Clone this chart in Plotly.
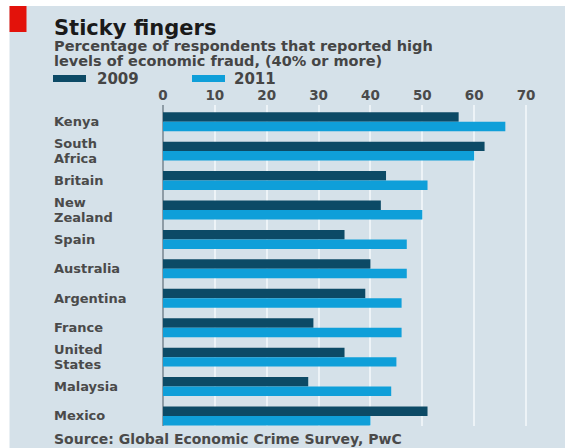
import plotly.graph_objects as go

countries = ["Kenya", "South\nAfrica", "Britain", "New\nZealand", "Spain", "Australia",
             "Argentina", "France", "United\nStates", "Malaysia", "Mexico"]
series_names = ["2009", "2011"]
v2009 = [57, 62, 43, 42, 35, 40, 39, 29, 35, 28, 51]
v2011 = [66, 60, 51, 50, 47, 47, 46, 46, 45, 44, 40]
x_ticks = [0, 10, 20, 30, 40, 50, 60, 70]

title = "Sticky fingers"
subtitle = ["Percentage of respondents that reported high",
            "levels of economic fraud, (40% or more)"]
source = "Source: Global Economic Crime Survey, PwC"

W, H = 565, 448
L, R, T, B = 163, 13, 105, 22
PW, PH = W - L - R, H - T - B

def px(x):
    return (x - L) / PW

def py(y):
    return (H - B - y) / PH

BG = "#d5e1e9"
DARK = "#0c4a66"
LIGHT = "#0f9fd9"
FONT = "DejaVu Sans"

cats = [f"c{i}" for i in range(len(countries))]

fig = go.Figure()
fig.add_trace(go.Bar(y=cats, x=v2009, orientation="h", name=series_names[0],
                     marker=dict(color=DARK, line=dict(width=0))))
fig.add_trace(go.Bar(y=cats, x=v2011, orientation="h", name=series_names[1],
                     marker=dict(color=LIGHT, line=dict(width=0))))

annotations = []
shapes = []

# background panel and red tag
shapes.append(dict(type="rect", xref="paper", yref="paper", x0=px(9.5), x1=px(W + 5),
                   y0=py(6), y1=py(H + 5), fillcolor=BG, line=dict(width=0), layer="below"))
shapes.append(dict(type="rect", xref="paper", yref="paper", x0=px(9.5), x1=px(26.5),
                   y0=py(6), y1=py(32), fillcolor="#e3120b", line=dict(width=0), layer="above"))

# title & subtitle
annotations.append(dict(text=f"<b>{title}</b>", x=px(52), y=py(28), xref="paper", yref="paper",
                        xanchor="left", yanchor="middle", showarrow=False,
                        font=dict(family=FONT, size=21, color="#1a1a1a")))
for i, line in enumerate(subtitle):
    annotations.append(dict(text=f"<b>{line}</b>", x=px(52), y=py(46 + 15.5 * i),
                            xref="paper", yref="paper", xanchor="left", yanchor="middle",
                            showarrow=False, font=dict(family=FONT, size=14.5, color="#454545")))

# legend
leg_x = [(53, 86, 95), (192, 225, 232)]
for (x0, x1, tx), name, col in zip(leg_x, series_names, [DARK, LIGHT]):
    shapes.append(dict(type="rect", xref="paper", yref="paper", x0=px(x0), x1=px(x1),
                       y0=py(75), y1=py(82), fillcolor=col, line=dict(width=0)))
    annotations.append(dict(text=f"<b>{name}</b>", x=px(tx), y=py(79), xref="paper", yref="paper",
                            xanchor="left", yanchor="middle", showarrow=False,
                            font=dict(family=FONT, size=15, color="#454545")))

# country labels (left aligned)
for c, lab in zip(cats, countries):
    lines = lab.split("\n")
    n = len(lines)
    for i, ln in enumerate(lines):
        annotations.append(dict(text=f"<b>{ln}</b>", x=px(52), y=c, xref="paper", yref="y",
                                xanchor="left", yanchor="middle", showarrow=False,
                                yshift=((n - 1) / 2 - i) * 15.3,
                                font=dict(family=FONT, size=13, color="#4a4a4a")))

# source
annotations.append(dict(text=f"<b>{source}</b>", x=px(52), y=py(439), xref="paper", yref="paper",
                        xanchor="left", yanchor="middle", showarrow=False,
                        font=dict(family=FONT, size=14, color="#4a4a4a")))

fig.update_layout(
    width=W, height=H,
    margin=dict(l=L, r=R, t=T, b=B, pad=0),
    paper_bgcolor="white",
    plot_bgcolor=BG,
    barmode="group",
    bargap=0.355,
    bargroupgap=0,
    showlegend=False,
    shapes=shapes,
    annotations=annotations,
    xaxis=dict(side="top", range=[0, 75], tickvals=x_ticks,
               ticktext=[f"<b>{t}</b>" for t in x_ticks],
               showgrid=True, gridcolor="#edf3f7", gridwidth=2,
               zeroline=True, zerolinecolor="#8e9ca6", zerolinewidth=2,
               showline=False, ticks="", ticklabelstandoff=1,
               tickfont=dict(family=FONT, size=13.5, color="#4a4a4a"), fixedrange=True),
    yaxis=dict(categoryorder="array", categoryarray=cats, range=[10.34, -0.567],
               showticklabels=False, showgrid=False, zeroline=False, ticks="",
               fixedrange=True),
)

fig.write_html("out.html")
